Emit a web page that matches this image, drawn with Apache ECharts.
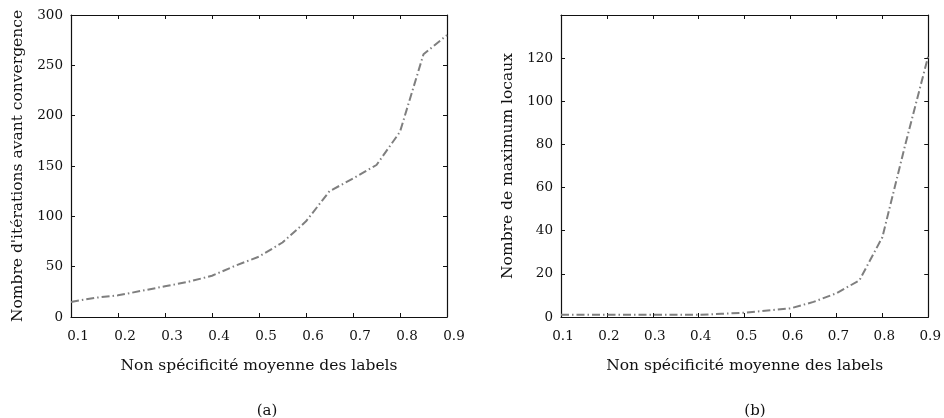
<!DOCTYPE html>
<html>
<head>
<meta charset="utf-8">
<script src="https://cdn.jsdelivr.net/npm/echarts@6/dist/echarts.min.js"></script>
<style>
  html, body { margin: 0; padding: 0; background: #fff; }
  #chart { width: 944px; height: 418px; }
</style>
</head>
<body>
<div id="chart"></div>
<script>
  // non spécificité moyenne des labels
  var xValues = [0.1, 0.15, 0.2, 0.25, 0.3, 0.35, 0.4, 0.45, 0.5, 0.55, 0.6, 0.65, 0.7, 0.75, 0.8, 0.85, 0.9];
  // (a) nombre d'itérations avant convergence
  var iterations = [15, 19, 21.5, 26, 30.5, 35, 41, 51, 60, 74, 95, 125, 137.5, 151, 184, 261, 280];
  // (b) nombre de maximum locaux
  var maxima = [1, 1, 1, 1, 1, 1, 1, 1.5, 2, 3, 4, 7, 11, 17, 37, 80, 121];
  var xTicks = [0.1, 0.2, 0.3, 0.4, 0.5, 0.6, 0.7, 0.8, 0.9];
  var captions = ['(a)', '(b)'];

  var font = 'DejaVu Serif';
  var black = '#111';

  function pairs(ys) {
    return xValues.map(function (x, i) { return [x, ys[i]]; });
  }

  function bottomAxis(gridIndex, padLeft) {
    return {
      type: 'value', gridIndex: gridIndex, min: xTicks[0], max: xTicks[xTicks.length - 1], interval: 0.1,
      name: 'Non spécificité moyenne des labels',
      nameLocation: 'middle', nameGap: 41,
      nameTextStyle: { fontFamily: font, fontSize: 15.5, color: black },
      axisLine: { show: true, onZero: false, lineStyle: { color: black, width: 1.2 } },
      axisTick: { show: true, inside: true, length: 4, lineStyle: { color: black } },
      axisLabel: {
        fontFamily: font, fontSize: 13.5, color: black, margin: 12,
        padding: [0, 0, 0, padLeft],
        formatter: function (v) { return v.toFixed(1); }
      },
      splitLine: { show: false }
    };
  }

  function topAxis(gridIndex) {
    return {
      type: 'value', gridIndex: gridIndex, position: 'top', min: xTicks[0], max: xTicks[xTicks.length - 1], interval: 0.1,
      axisLine: { show: true, onZero: false, lineStyle: { color: black, width: 1.2 } },
      axisTick: { show: true, inside: true, length: 4, lineStyle: { color: black } },
      axisLabel: { show: false },
      splitLine: { show: false }
    };
  }

  function leftAxis(gridIndex, name, max, interval, showMax) {
    return {
      type: 'value', gridIndex: gridIndex, min: 0, max: max, interval: interval,
      name: name, nameLocation: 'middle', nameGap: 45,
      nameTextStyle: { fontFamily: font, fontSize: 15.5, color: black },
      axisLine: { show: true, onZero: false, lineStyle: { color: black, width: 1.2 } },
      axisTick: { show: true, inside: true, length: 4, lineStyle: { color: black } },
      axisLabel: { fontFamily: font, fontSize: 13.5, color: black, margin: 8, showMaxLabel: showMax },
      splitLine: { show: false }
    };
  }

  function rightAxis(gridIndex, max, interval) {
    return {
      type: 'value', gridIndex: gridIndex, position: 'right', min: 0, max: max, interval: interval,
      axisLine: { show: true, onZero: false, lineStyle: { color: black, width: 1.2 } },
      axisTick: { show: true, inside: true, length: 4, lineStyle: { color: black } },
      axisLabel: { show: false },
      splitLine: { show: false }
    };
  }

  function curve(axisIndex, ys) {
    return {
      type: 'line', xAxisIndex: axisIndex, yAxisIndex: axisIndex,
      data: pairs(ys), symbol: 'none', animation: false,
      lineStyle: { color: '#7f7f7f', width: 2, type: [8, 3, 1.5, 3] }
    };
  }

  var option = {
    animation: false,
    title: [
      { text: captions[0], left: 262, top: 399, textAlign: 'center',
        textStyle: { fontFamily: font, fontSize: 15, fontWeight: 'normal', color: black } },
      { text: captions[1], left: 750, top: 399, textAlign: 'center',
        textStyle: { fontFamily: font, fontSize: 15, fontWeight: 'normal', color: black } }
    ],
    grid: [
      { left: 71, top: 15, width: 376, height: 302 },
      { left: 561, top: 15, width: 377, height: 302 }
    ],
    xAxis: [bottomAxis(0, 14), bottomAxis(1, 4), topAxis(0), topAxis(1)],
    yAxis: [
      leftAxis(0, "Nombre d'itérations avant convergence", 300, 50, true),
      leftAxis(1, 'Nombre de maximum locaux', 140, 20, false),
      rightAxis(0, 300, 50),
      rightAxis(1, 140, 20)
    ],
    series: [curve(0, iterations), curve(1, maxima)]
  };

  var chart = echarts.init(document.getElementById('chart'), null, { renderer: 'canvas' });
  chart.setOption(option);
</script>
</body>
</html>
